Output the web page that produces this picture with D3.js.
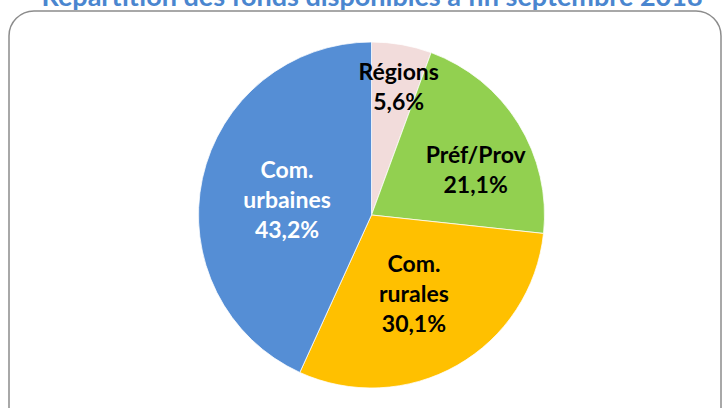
<!DOCTYPE html>
<html>
    <head>
        <meta charset="utf-8">
        <script src="https://d3js.org/d3.v7.min.js"></script>
        <style>
            body { margin: 0; background: #fff; }
            svg { display: block; }
            .lbl { font-family: Lato, "Open Sans", sans-serif; font-weight: bold; }
        </style>
    </head>
    <body>
        <div id="chart"></div>
    </body>
    <script>
        // data
        var categories = ["Régions", "Préf/Prov", "Com. rurales", "Com. urbaines"];
        var labelLines = [["Régions"], ["Préf/Prov"], ["Com.", "rurales"], ["Com.", "urbaines"]];
        var shares = [5.6, 21.1, 30.1, 43.2];
        var title = "Répartition des fonds disponibles à fin septembre 2018";

        var width = 723, height = 408;
        var cx = 371.5, cy = 215, radius = 173;

        var colors = ["#F2DCDB", "#92D050", "#FFC000", "#558ED5"];
        var textColors = ["#000", "#000", "#000", "#fff"];
        // small nudges so labels sit where excel put them
        var nudge = [[9, -26], [16, 10], [-9, -11], [17, 7]];

        var svg = d3.select("#chart")
            .append("svg")
                .attr("width", width)
                .attr("height", height);

        svg.append("text")
            .attr("class", "lbl")
            .attr("x", 372)
            .attr("y", 6)
            .attr("text-anchor", "middle")
            .style("font-size", "27px")
            .style("fill", "#4A86CF")
            .text(title);

        svg.append("rect")
            .attr("x", 9)
            .attr("y", 11)
            .attr("width", 712)
            .attr("height", 430)
            .attr("rx", 25)
            .style("fill", "none")
            .style("stroke", "#8c8c8c")
            .style("stroke-width", 1.5);

        var data = categories.map(function(c, i) {
            return {name: c, lines: labelLines[i], value: shares[i], i: i};
        });

        var pie = d3.pie()
            .sort(null)
            .value(function(d) { return d.value; });

        var arc = d3.arc().innerRadius(0).outerRadius(radius);
        var labelArc = d3.arc().innerRadius(radius * 0.6).outerRadius(radius * 0.6);

        var g = svg.append("g")
            .attr("transform", "translate(" + cx + "," + cy + ")");

        var arcs = pie(data);

        g.selectAll("path")
            .data(arcs)
            .enter().append("path")
                .attr("d", arc)
                .style("fill", function(d) { return colors[d.data.i]; })
                .style("stroke", "#fff")
                .style("stroke-width", 0.75);

        var fmt = function(v) { return v.toFixed(1).replace(".", ",") + "%"; };
        var lineH = 30;

        arcs.forEach(function(d) {
            var c = labelArc.centroid(d);
            var x = c[0] + nudge[d.data.i][0];
            var y = c[1] + nudge[d.data.i][1];
            var lines = d.data.lines.concat([fmt(d.data.value)]);
            var firstBase = y + 8 - (lines.length - 1) * lineH / 2;
            var t = g.append("text")
                .attr("class", "lbl")
                .attr("text-anchor", "middle")
                .style("font-size", "23px")
                .style("fill", textColors[d.data.i]);
            lines.forEach(function(s, k) {
                t.append("tspan")
                    .attr("x", x)
                    .attr("y", firstBase + k * lineH)
                    .text(s);
            });
        });
    </script>
</html>
